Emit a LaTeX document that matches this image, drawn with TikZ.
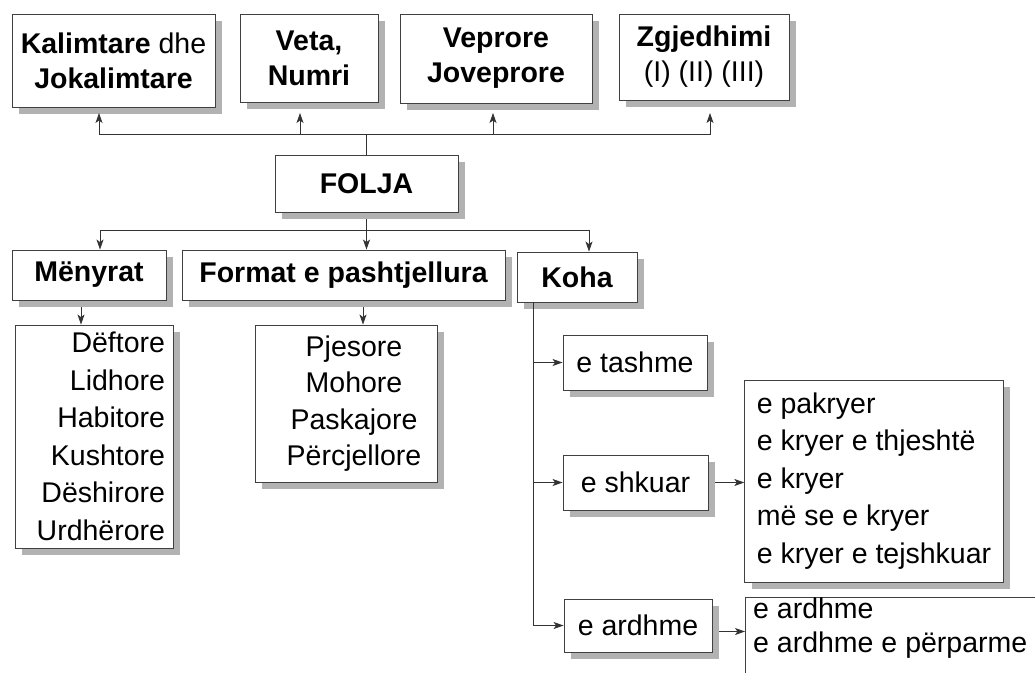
\documentclass[tikz,border=0pt]{standalone}
\usepackage{fontspec}
\setmainfont{Liberation Sans}
\usetikzlibrary{shadows,arrows.meta}
\newcommand\topfs{\fontsize{28.5}{35}\selectfont}
\newcommand\listfs{\fontsize{28.5}{37.5}\selectfont}
\begin{document}
\begin{tikzpicture}[x=1pt,y=-1pt,
  box/.style={draw=black!75, line width=0.9pt, fill=white, inner sep=0pt,
    drop shadow={shadow xshift=7pt, shadow yshift=-7pt, fill=black!30, opacity=1}},
  topbox/.style={box, font=\topfs, align=center},
  listbox/.style={box, font=\listfs},
  conn/.style={draw=black!80, line width=0.8pt},
  arr/.style={conn, -{Stealth[length=10pt,width=7pt,inset=2.5pt]}}]
\useasboundingbox (0,0) rectangle (1035,672);

% top row
\node[topbox, minimum width=203pt, minimum height=93pt] (kal) at (113.5,60.5) {\textbf{Kalimtare} dhe\\\textbf{Jokalimtare}};
\node[topbox, minimum width=138pt, minimum height=88pt, font=\topfs\bfseries] (veta) at (309,58) {Veta,\\Numri};
\node[topbox, minimum width=192pt, minimum height=89pt, font=\topfs\bfseries] (vep) at (496,58.5) {Veprore\\Joveprore};
\node[topbox, minimum width=170pt, minimum height=86pt] (zgj) at (704,57) {\textbf{Zgjedhimi}\\(I) (II) (III)};

% center
\node[topbox, minimum width=183pt, minimum height=57pt, font=\topfs\bfseries] (folja) at (366.5,183.5) {FOLJA};

% second row
\node[topbox, minimum width=154pt, minimum height=50pt, font=\topfs\bfseries] (meny) at (89,275) {Mënyrat};
\node[topbox, minimum width=323pt, minimum height=50pt, font=\topfs\bfseries] (form) at (343.5,275) {Format e pashtjellura};
\node[topbox, minimum width=120pt, minimum height=50pt, font=\topfs\bfseries] (koha) at (577,277) {Koha};

% lists
\node[listbox, text width=142pt, inner xsep=8pt, align=right, minimum height=223pt] (menl) at (94,436.5)
  {Dëftore\\Lidhore\\Habitore\\Kushtore\\Dëshirore\\Urdhërore};
\node[listbox, text width=182pt, align=center, minimum height=157pt, font=\fontsize{28.5}{36.5}\selectfont] (forml) at (346,403.5)
  {\hspace*{16pt}Pjesore\\\hspace*{16pt}Mohore\\\hspace*{16pt}Paskajore\\\hspace*{16pt}Përcjellore};

% koha branches
\node[topbox, minimum width=144pt, minimum height=55pt] (tash) at (635,362.5) {e tashme};
\node[topbox, minimum width=145pt, minimum height=55pt] (shk) at (635.5,482.5) {e shkuar};
\node[topbox, minimum width=148pt, minimum height=53pt] (ard) at (638,625.5) {e ardhme};

\node[listbox, inner xsep=12pt, align=left, minimum width=256pt, minimum height=202pt] (pakr) at (874,481)
  {e pakryer\\e kryer e thjeshtë\\e kryer\\më se e kryer\\e kryer e tejshkuar};
\node[box, anchor=north west, minimum width=310pt, minimum height=80pt] (ardl) at (745,597) {};
\node[font=\fontsize{28.5}{34}\selectfont, align=left, anchor=north west, inner sep=0pt] (ardt) at ([xshift=8pt,yshift=-1pt]ardl.north west)
  {e ardhme\\e ardhme e përparme};

% connectors top
\coordinate (tb) at (folja.north |- 0,134);
\coordinate (ka) at (99,113);
\coordinate (va) at (300,113);
\coordinate (pa) at (493,113);
\coordinate (za) at (710,113);
\draw[conn] (folja.north) -- (tb);
\draw[arr] (tb) -| (ka);
\draw[arr] (tb) -| (va);
\draw[arr] (tb) -| (pa);
\draw[arr] (tb) -| (za);

% connectors second
\coordinate (mb) at (folja.south |- 0,230);
\draw[conn] ([yshift=-7pt]folja.south) -- (mb);
\draw[arr] (mb) -| ([xshift=11pt]meny.north);
\draw[arr] (mb) -- (mb |- form.north);
\draw[arr] (mb) -| ([xshift=12pt]koha.north);

% lists arrows
\draw[arr] ([xshift=-8pt,yshift=-7pt]meny.south) -- ([xshift=-8pt]meny.south |- menl.north);
\draw[arr] ([xshift=19.5pt,yshift=-7pt]form.south) -- ([xshift=19.5pt]form.south |- forml.north);

% koha tree
\coordinate (kv) at ([xshift=17pt]koha.south west);
\draw[conn] (kv) -- (kv |- ard.west);
\draw[arr] (kv |- tash.west) -- (tash.west);
\draw[arr] (kv |- shk.west) -- (shk.west);
\draw[arr] (kv |- ard.west) -- (ard.west);

\draw[arr] ([xshift=7pt]shk.east) -- (shk.east -| pakr.west);
\draw[arr] ([xshift=7pt,yshift=-6pt]ard.east) -- ([yshift=-6pt]ard.east -| ardl.west);
\end{tikzpicture}
\end{document}
